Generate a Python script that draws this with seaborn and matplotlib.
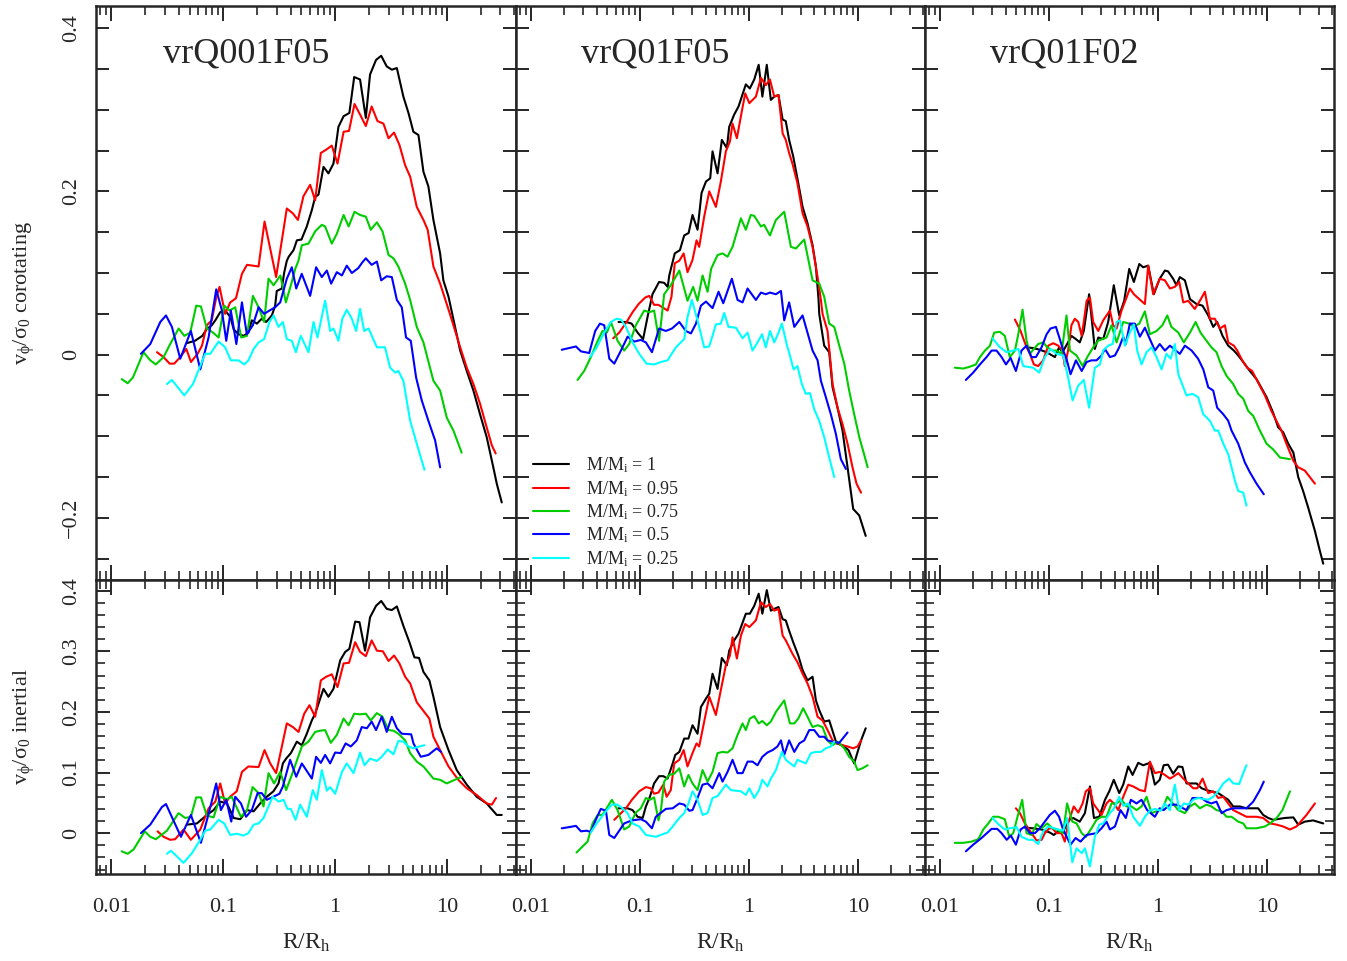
import pandas as pd
import seaborn as sns
import matplotlib.pyplot as plt
from matplotlib.ticker import MultipleLocator, LogLocator, FuncFormatter, NullFormatter

# model names (panel titles), mass fractions, colours
models = ["vrQ001F05", "vrQ01F05", "vrQ01F02"]
mass_labels = [r"M/M$_{\mathrm{i}}$ = 1", r"M/M$_{\mathrm{i}}$ = 0.95", r"M/M$_{\mathrm{i}}$ = 0.75",
               r"M/M$_{\mathrm{i}}$ = 0.5", r"M/M$_{\mathrm{i}}$ = 0.25"]
colors = ["#000000", "#ff0000", "#00cd00", "#0000ff", "#00ffff"]

# ---------------- vrQ001F05, corotating: (R/Rh, v/sigma0) ----------------
cor1_m100 = [(0.047, 0.014), (0.056, 0.017), (0.065, 0.023), (0.071, 0.031), (0.079, 0.036), (0.085, 0.042),
             (0.094, 0.052), (0.104, 0.054), (0.116, 0.046), (0.124, 0.031), (0.137, 0.025), (0.152, 0.023),
             (0.168, 0.027), (0.18, 0.042), (0.20, 0.038), (0.221, 0.044), (0.242, 0.040), (0.272, 0.048),
             (0.291, 0.060), (0.301, 0.078), (0.334, 0.081), (0.35, 0.100), (0.37, 0.115), (0.385, 0.120),
             (0.425, 0.128), (0.455, 0.140), (0.50, 0.141), (0.558, 0.157), (0.619, 0.177), (0.663, 0.193),
             (0.71, 0.196), (0.787, 0.230), (0.871, 0.222), (0.966, 0.234), (1.07, 0.279), (1.19, 0.292),
             (1.34, 0.296), (1.48, 0.340), (1.67, 0.337), (1.88, 0.290), (2.05, 0.343), (2.32, 0.361),
             (2.58, 0.366), (2.89, 0.353), (3.21, 0.349), (3.56, 0.351), (4.07, 0.316), (4.52, 0.296),
             (5.0, 0.273), (5.55, 0.269), (6.15, 0.224), (6.81, 0.206), (7.55, 0.165), (8.67, 0.124),
             (9.27, 0.091), (10.3, 0.071), (13.1, 0.005), (15.0, -0.020), (17.2, -0.044), (19.7, -0.073),
             (22.6, -0.101), (25.9, -0.138), (27.8, -0.158), (30.8, -0.181)]
cor1_m095 = [(0.0256, 0.003), (0.0293, -0.003), (0.0332, -0.011), (0.0365, -0.011), (0.0413, -0.003),
             (0.0468, 0.007), (0.0515, -0.009), (0.059, 0.001), (0.0646, 0.011), (0.0714, 0.036), (0.079, 0.042),
             (0.0866, 0.070), (0.0927, 0.083), (0.104, 0.050), (0.1155, 0.064), (0.13, 0.069), (0.147, 0.099),
             (0.163, 0.110), (0.207, 0.108), (0.234, 0.163), (0.297, 0.095), (0.37, 0.179), (0.419, 0.173),
             (0.465, 0.165), (0.521, 0.194), (0.598, 0.208), (0.663, 0.189), (0.745, 0.247), (0.832, 0.251),
             (0.933, 0.256), (1.05, 0.234), (1.19, 0.273), (1.33, 0.274), (1.49, 0.307), (1.67, 0.294),
             (1.88, 0.280), (2.12, 0.304), (2.39, 0.286), (2.70, 0.283), (3.0, 0.265), (3.36, 0.272),
             (3.75, 0.257), (4.22, 0.232), (4.68, 0.218), (5.36, 0.181), (6.15, 0.165), (6.71, 0.153),
             (7.55, 0.108), (8.67, 0.087), (10.6, 0.050), (13.1, 0.009), (15.0, -0.016), (17.2, -0.036),
             (19.7, -0.060), (22.6, -0.089), (25.1, -0.111), (27.2, -0.121)]
cor1_m075 = [(0.0124, -0.030), (0.014, -0.035), (0.0156, -0.028), (0.0194, 0.003), (0.0223, -0.007),
             (0.025, -0.012), (0.0293, -0.003), (0.0336, 0.013), (0.040, 0.032), (0.0449, 0.023), (0.0507, 0.027),
             (0.0574, 0.060), (0.0632, 0.059), (0.0714, 0.032), (0.081, 0.027), (0.091, 0.021), (0.102, 0.060),
             (0.114, 0.054), (0.128, 0.058), (0.145, 0.021), (0.163, 0.023), (0.184, 0.072), (0.207, 0.058),
             (0.232, 0.040), (0.254, 0.093), (0.282, 0.085), (0.324, 0.097), (0.363, 0.064), (0.41, 0.089),
             (0.44, 0.105), (0.47, 0.115), (0.504, 0.134), (0.578, 0.136), (0.663, 0.151), (0.76, 0.159),
             (0.814, 0.157), (0.933, 0.136), (1.035, 0.148), (1.19, 0.171), (1.32, 0.157), (1.49, 0.175),
             (1.67, 0.171), (1.88, 0.169), (2.08, 0.153), (2.36, 0.162), (2.65, 0.151), (3.0, 0.122),
             (3.32, 0.118), (3.67, 0.108), (4.22, 0.087), (4.68, 0.067), (5.36, 0.034), (6.15, 0.015),
             (7.55, -0.032), (8.67, -0.044), (9.93, -0.077), (11.4, -0.093), (13.5, -0.120)]
cor1_m050 = [(0.0184, 0.001), (0.0223, 0.013), (0.0274, 0.040), (0.0308, 0.048), (0.0348, 0.034),
             (0.0413, -0.005), (0.0514, 0.029), (0.0624, -0.018), (0.074, 0.021), (0.0866, 0.080), (0.0973, 0.054),
             (0.1064, 0.017), (0.117, 0.054), (0.131, 0.013), (0.147, 0.064), (0.1625, 0.025), (0.184, 0.036),
             (0.207, 0.058), (0.232, 0.050), (0.259, 0.054), (0.291, 0.058), (0.323, 0.064), (0.37, 0.093),
             (0.41, 0.107), (0.449, 0.081), (0.503, 0.099), (0.598, 0.072), (0.676, 0.107), (0.76, 0.095),
             (0.843, 0.103), (0.921, 0.087), (1.035, 0.101), (1.15, 0.097), (1.27, 0.109), (1.41, 0.100),
             (1.61, 0.106), (1.75, 0.113), (1.88, 0.118), (2.12, 0.110), (2.36, 0.114), (2.58, 0.091),
             (2.89, 0.096), (3.21, 0.095), (3.56, 0.067), (3.94, 0.058), (4.3, 0.021), (4.74, 0.017),
             (5.29, -0.028), (5.94, -0.056), (6.81, -0.081), (7.82, -0.105), (8.67, -0.138)]
cor1_m025 = [(0.0314, -0.036), (0.0348, -0.031), (0.0449, -0.050), (0.0536, -0.036), (0.0624, -0.014),
             (0.069, 0.001), (0.0766, 0.001), (0.091, 0.016), (0.104, 0.009), (0.117, -0.007), (0.137, -0.007),
             (0.154, -0.012), (0.168, -0.007), (0.187, 0.007), (0.207, 0.015), (0.232, 0.019), (0.259, 0.040),
             (0.282, 0.048), (0.312, 0.034), (0.341, 0.040), (0.37, 0.019), (0.41, 0.017), (0.446, 0.003),
             (0.493, 0.023), (0.578, 0.003), (0.641, 0.040), (0.695, 0.021), (0.814, 0.066), (0.902, 0.029),
             (0.966, 0.032), (1.07, 0.017), (1.16, 0.044), (1.27, 0.055), (1.41, 0.044), (1.54, 0.029),
             (1.67, 0.056), (1.82, 0.029), (1.99, 0.032), (2.36, 0.009), (2.79, 0.009), (3.1, -0.016),
             (3.44, -0.022), (3.67, -0.020), (4.07, -0.032), (4.68, -0.081), (5.36, -0.109), (6.28, -0.141)]

# ---------------- vrQ001F05, inertial ----------------
ine1_m100 = [(0.0474, 0.014), (0.0582, 0.016), (0.0714, 0.030), (0.082, 0.038), (0.094, 0.052), (0.108, 0.049),
             (0.124, 0.025), (0.142, 0.023), (0.163, 0.038), (0.187, 0.036), (0.214, 0.049), (0.245, 0.060),
             (0.281, 0.069), (0.312, 0.082), (0.341, 0.115), (0.365, 0.123), (0.402, 0.132), (0.455, 0.151),
             (0.504, 0.145), (0.558, 0.164), (0.619, 0.186), (0.663, 0.197), (0.735, 0.222), (0.787, 0.238),
             (0.871, 0.225), (0.966, 0.238), (1.11, 0.285), (1.23, 0.299), (1.34, 0.304), (1.51, 0.349),
             (1.65, 0.348), (1.85, 0.301), (2.05, 0.356), (2.32, 0.375), (2.58, 0.383), (2.89, 0.370),
             (3.21, 0.368), (3.56, 0.374), (4.07, 0.342), (4.61, 0.315), (5.11, 0.290), (5.62, 0.289),
             (6.15, 0.266), (6.95, 0.252), (7.55, 0.225), (8.67, 0.175), (10.3, 0.137), (12.2, 0.104),
             (15.0, 0.080), (18.4, 0.060), (22.6, 0.049), (27.8, 0.030), (30.8, 0.030)]
ine1_m095 = [(0.0259, 0.003), (0.0293, -0.006), (0.0336, -0.011), (0.0372, -0.010), (0.0442, 0.006),
             (0.0514, -0.011), (0.0624, 0.006), (0.074, 0.041), (0.085, 0.052), (0.094, 0.082), (0.104, 0.049),
             (0.115, 0.060), (0.132, 0.069), (0.147, 0.101), (0.168, 0.110), (0.207, 0.109), (0.234, 0.137),
             (0.263, 0.115), (0.297, 0.099), (0.37, 0.181), (0.419, 0.175), (0.471, 0.167), (0.529, 0.197),
             (0.59, 0.211), (0.663, 0.192), (0.745, 0.252), (0.832, 0.258), (0.933, 0.262), (1.05, 0.241),
             (1.19, 0.280), (1.33, 0.281), (1.51, 0.315), (1.67, 0.299), (1.88, 0.292), (2.12, 0.318),
             (2.36, 0.301), (2.67, 0.300), (3.0, 0.284), (3.36, 0.293), (3.75, 0.280), (4.22, 0.258),
             (4.68, 0.247), (5.36, 0.216), (6.07, 0.203), (6.95, 0.189), (7.55, 0.159), (8.67, 0.137),
             (10.3, 0.110), (12.6, 0.088), (15.0, 0.074), (18.4, 0.063), (22.6, 0.049), (25.1, 0.047),
             (27.4, 0.058)]
ine1_m075 = [(0.0124, -0.030), (0.014, -0.034), (0.0158, -0.027), (0.0199, 0.003), (0.0223, -0.006),
             (0.025, -0.010), (0.0314, 0.004), (0.0399, 0.033), (0.0458, 0.025), (0.0514, 0.027), (0.0574, 0.059),
             (0.0632, 0.059), (0.0714, 0.029), (0.082, 0.026), (0.094, 0.060), (0.108, 0.056), (0.119, 0.060),
             (0.144, 0.027), (0.163, 0.038), (0.183, 0.076), (0.207, 0.066), (0.229, 0.044), (0.254, 0.099),
             (0.285, 0.082), (0.323, 0.101), (0.365, 0.071), (0.41, 0.096), (0.504, 0.143), (0.578, 0.151),
             (0.663, 0.167), (0.735, 0.169), (0.814, 0.170), (0.914, 0.149), (1.035, 0.162), (1.19, 0.189),
             (1.32, 0.178), (1.48, 0.197), (1.67, 0.196), (1.88, 0.197), (2.08, 0.186), (2.36, 0.198),
             (2.65, 0.192), (3.0, 0.170), (3.32, 0.169), (3.67, 0.164), (4.22, 0.153), (4.68, 0.132),
             (5.36, 0.118), (6.15, 0.110), (7.55, 0.090), (8.67, 0.088), (9.93, 0.082), (13.5, 0.093)]
ine1_m050 = [(0.0184, 0.000), (0.0223, 0.014), (0.0283, 0.043), (0.0308, 0.048), (0.0341, 0.030),
             (0.0419, -0.006), (0.0514, 0.030), (0.0632, -0.016), (0.0755, 0.038), (0.0866, 0.082), (0.0953, 0.038),
             (0.1064, 0.055), (0.118, 0.019), (0.128, 0.060), (0.144, 0.049), (0.160, 0.027), (0.180, 0.038),
             (0.203, 0.066), (0.221, 0.066), (0.245, 0.055), (0.28, 0.060), (0.318, 0.065), (0.341, 0.077),
             (0.396, 0.121), (0.449, 0.093), (0.504, 0.115), (0.619, 0.090), (0.676, 0.126), (0.745, 0.116),
             (0.814, 0.129), (0.902, 0.115), (1.0, 0.133), (1.12, 0.132), (1.24, 0.148), (1.38, 0.143),
             (1.56, 0.153), (1.73, 0.175), (1.92, 0.173), (2.12, 0.184), (2.32, 0.170), (2.61, 0.192),
             (2.89, 0.167), (3.21, 0.192), (3.56, 0.173), (3.94, 0.164), (4.78, 0.163), (5.01, 0.148),
             (5.82, 0.126), (6.81, 0.129), (8.09, 0.140), (8.83, 0.134)]
ine1_m025 = [(0.0314, -0.034), (0.0341, -0.029), (0.0442, -0.049), (0.0525, -0.033), (0.0624, -0.011),
             (0.069, 0.004), (0.0766, 0.006), (0.091, 0.022), (0.102, 0.016), (0.1155, -0.003), (0.132, -0.001),
             (0.152, -0.004), (0.168, 0.000), (0.187, 0.014), (0.207, 0.016), (0.229, 0.025), (0.255, 0.045),
             (0.277, 0.060), (0.312, 0.052), (0.346, 0.055), (0.375, 0.040), (0.402, 0.040), (0.443, 0.022),
             (0.487, 0.047), (0.558, 0.027), (0.632, 0.071), (0.686, 0.055), (0.76, 0.104), (0.843, 0.070),
             (0.902, 0.076), (1.0, 0.065), (1.15, 0.101), (1.27, 0.115), (1.46, 0.099), (1.67, 0.133),
             (1.83, 0.112), (2.05, 0.123), (2.36, 0.119), (2.61, 0.126), (2.95, 0.138), (3.32, 0.130),
             (3.67, 0.152), (4.07, 0.151), (4.52, 0.143), (5.0, 0.140), (5.66, 0.143), (6.28, 0.145)]

# ---------------- vrQ01F05, corotating ----------------
cor2_m100 = [(0.0637, 0.040), (0.075, 0.040), (0.084, 0.038), (0.0953, 0.027), (0.107, 0.019), (0.1175, 0.046),
             (0.1305, 0.074), (0.150, 0.089), (0.167, 0.088), (0.18, 0.083), (0.186, 0.097), (0.209, 0.124),
             (0.233, 0.128), (0.255, 0.146), (0.28, 0.149), (0.304, 0.171), (0.338, 0.153), (0.368, 0.198),
             (0.404, 0.212), (0.442, 0.216), (0.464, 0.249), (0.516, 0.222), (0.565, 0.263), (0.628, 0.253),
             (0.66, 0.279), (0.733, 0.294), (0.804, 0.304), (0.938, 0.331), (1.02, 0.326), (1.12, 0.337),
             (1.23, 0.355), (1.33, 0.316), (1.46, 0.355), (1.59, 0.312), (1.71, 0.316), (1.87, 0.318),
             (2.04, 0.288), (2.18, 0.286), (2.34, 0.263), (2.55, 0.243), (2.84, 0.210), (3.11, 0.181),
             (3.45, 0.161), (3.84, 0.134), (4.12, 0.108), (4.36, 0.067), (4.42, 0.050), (4.91, 0.011),
             (5.46, 0.003), (5.86, -0.040), (6.51, -0.065), (7.23, -0.093), (8.04, -0.138), (9.06, -0.189),
             (10.3, -0.197), (11.8, -0.222)]
cor2_m095 = [(0.0569, 0.020), (0.0646, 0.027), (0.0755, 0.040), (0.0857, 0.052), (0.0973, 0.062), (0.112, 0.070),
             (0.122, 0.072), (0.135, 0.061), (0.148, 0.061), (0.1795, 0.054), (0.195, 0.071), (0.209, 0.112),
             (0.23, 0.115), (0.252, 0.124), (0.2735, 0.101), (0.304, 0.116), (0.331, 0.140), (0.35, 0.132),
             (0.389, 0.169), (0.433, 0.200), (0.498, 0.181), (0.553, 0.212), (0.615, 0.249), (0.67, 0.261),
             (0.708, 0.283), (0.776, 0.265), (0.845, 0.292), (0.925, 0.320), (1.01, 0.308), (1.16, 0.316),
             (1.29, 0.339), (1.43, 0.330), (1.56, 0.337), (1.71, 0.316), (1.87, 0.318), (2.04, 0.271),
             (2.18, 0.263), (2.34, 0.247), (2.51, 0.234), (2.79, 0.210), (3.11, 0.173), (3.45, 0.157),
             (3.84, 0.132), (4.27, 0.095), (4.58, 0.067), (4.74, 0.050), (5.27, 0.029), (5.86, -0.036),
             (6.51, -0.065), (7.23, -0.085), (8.04, -0.109), (8.93, -0.138), (9.72, -0.158), (10.7, -0.169)]
cor2_m075 = [(0.0268, -0.031), (0.0308, -0.020), (0.0355, -0.003), (0.041, 0.017), (0.0454, 0.029),
             (0.0498, 0.027), (0.0542, 0.040), (0.0624, 0.017), (0.0717, 0.005), (0.0798, 0.013), (0.0918, 0.036),
             (0.1096, 0.054), (0.122, 0.052), (0.135, 0.054), (0.150, 0.017), (0.167, 0.074), (0.192, 0.085),
             (0.230, 0.103), (0.2735, 0.066), (0.308, 0.083), (0.338, 0.066), (0.376, 0.097), (0.418, 0.077),
             (0.45, 0.105), (0.516, 0.122), (0.573, 0.124), (0.637, 0.120), (0.708, 0.132), (0.845, 0.167),
             (0.938, 0.153), (1.04, 0.171), (1.12, 0.170), (1.29, 0.157), (1.38, 0.159), (1.56, 0.146),
             (1.77, 0.165), (2.11, 0.175), (2.43, 0.132), (2.70, 0.130), (3.22, 0.141), (3.84, 0.091),
             (4.42, 0.087), (4.91, 0.071), (5.46, 0.038), (6.07, 0.034), (6.75, 0.011), (7.5, -0.011),
             (8.32, -0.044), (9.25, -0.073), (10.3, -0.101), (11.4, -0.122), (12.3, -0.138)]
cor2_m050 = [(0.0192, 0.006), (0.0259, 0.010), (0.0288, 0.004), (0.0343, 0.002), (0.0389, 0.029), (0.043, 0.038),
             (0.0471, 0.036), (0.0524, -0.005), (0.0582, -0.011), (0.067, 0.005), (0.0771, 0.022), (0.0887, 0.016),
             (0.102, 0.018), (0.1135, 0.015), (0.129, 0.003), (0.150, 0.032), (0.173, 0.029), (0.197, 0.032),
             (0.230, 0.040), (0.264, 0.029), (0.294, 0.026), (0.327, 0.038), (0.363, 0.060), (0.404, 0.065),
             (0.464, 0.057), (0.527, 0.077), (0.582, 0.063), (0.698, 0.093), (0.787, 0.067), (0.875, 0.064),
             (0.973, 0.081), (1.16, 0.067), (1.29, 0.076), (1.43, 0.074), (1.56, 0.076), (1.77, 0.074),
             (1.97, 0.078), (2.11, 0.042), (2.34, 0.064), (2.61, 0.034), (3.11, 0.048), (3.84, 0.005),
             (4.27, -0.007), (4.58, -0.032), (5.08, -0.052), (5.65, -0.073), (6.28, -0.097), (6.98, -0.128),
             (7.76, -0.140)]
cor2_m025 = [(0.0348, -0.003), (0.0394, 0.007), (0.0471, 0.027), (0.0542, 0.040), (0.061, 0.044), (0.067, 0.043),
             (0.0745, 0.034), (0.0857, 0.015), (0.0986, 0.001), (0.115, -0.011), (0.135, -0.012), (0.156, -0.009),
             (0.1795, -0.007), (0.214, 0.009), (0.255, 0.019), (0.2735, 0.046), (0.30, 0.067), (0.338, 0.042),
             (0.389, 0.009), (0.433, 0.010), (0.498, 0.037), (0.553, 0.038), (0.594, 0.051), (0.65, 0.034),
             (0.76, 0.033), (0.875, 0.020), (0.973, 0.027), (1.08, 0.005), (1.2, 0.015), (1.32, 0.025),
             (1.43, 0.009), (1.56, 0.029), (1.71, 0.015), (1.87, 0.027), (2.01, 0.038), (2.22, 0.013),
             (2.38, -0.001), (2.57, -0.018), (2.79, -0.014), (3.06, -0.036), (3.33, -0.048), (3.63, -0.047),
             (3.98, -0.067), (4.42, -0.081), (4.91, -0.101), (5.46, -0.126), (6.07, -0.150)]

# ---------------- vrQ01F05, inertial ----------------
ine2_m100 = [(0.0637, 0.041), (0.077, 0.041), (0.0857, 0.038), (0.0953, 0.027), (0.106, 0.025), (0.1135, 0.044),
             (0.1236, 0.060), (0.135, 0.082), (0.150, 0.094), (0.164, 0.094), (0.1795, 0.090), (0.2, 0.115),
             (0.211, 0.129), (0.23, 0.134), (0.255, 0.156), (0.279, 0.156), (0.304, 0.178), (0.338, 0.164),
             (0.363, 0.208), (0.404, 0.222), (0.433, 0.230), (0.464, 0.263), (0.516, 0.238), (0.565, 0.289),
             (0.628, 0.277), (0.66, 0.301), (0.733, 0.318), (0.804, 0.329), (0.938, 0.362), (1.02, 0.362),
             (1.12, 0.375), (1.23, 0.395), (1.33, 0.362), (1.46, 0.401), (1.59, 0.367), (1.71, 0.370),
             (1.87, 0.373), (2.04, 0.353), (2.18, 0.351), (2.34, 0.334), (2.55, 0.315), (2.84, 0.293),
             (3.11, 0.269), (3.45, 0.252), (3.84, 0.258), (4.12, 0.219), (4.42, 0.203), (4.91, 0.184),
             (5.46, 0.186), (6.37, 0.148), (7.23, 0.145), (8.2, 0.137), (9.25, 0.115), (10.7, 0.153),
             (11.8, 0.173)]
ine2_m095 = [(0.0582, 0.022), (0.0646, 0.030), (0.0745, 0.041), (0.0845, 0.055), (0.0986, 0.069), (0.1135, 0.076),
             (0.126, 0.074), (0.135, 0.065), (0.148, 0.067), (0.164, 0.080), (0.176, 0.060), (0.192, 0.071),
             (0.2066, 0.115), (0.23, 0.121), (0.252, 0.137), (0.2735, 0.110), (0.304, 0.132), (0.331, 0.148),
             (0.35, 0.143), (0.389, 0.184), (0.433, 0.225), (0.498, 0.195), (0.553, 0.236), (0.615, 0.277),
             (0.67, 0.293), (0.708, 0.323), (0.776, 0.288), (0.845, 0.326), (0.925, 0.345), (1.01, 0.340),
             (1.16, 0.351), (1.29, 0.381), (1.43, 0.373), (1.56, 0.378), (1.71, 0.367), (1.87, 0.370),
             (2.04, 0.326), (2.18, 0.318), (2.34, 0.307), (2.51, 0.296), (2.79, 0.282), (3.11, 0.263),
             (3.45, 0.247), (3.84, 0.225), (4.27, 0.192), (4.74, 0.186), (5.27, 0.170), (5.86, 0.153),
             (6.51, 0.148), (7.23, 0.145), (8.04, 0.143), (9.06, 0.140), (9.93, 0.143), (10.7, 0.153)]
ine2_m075 = [(0.0262, -0.032), (0.0298, -0.022), (0.0331, -0.014), (0.0368, 0.016), (0.041, 0.030),
             (0.0454, 0.030), (0.0553, 0.055), (0.0624, 0.038), (0.0717, 0.006), (0.0798, 0.011), (0.0918, 0.034),
             (0.102, 0.041), (0.1135, 0.058), (0.1236, 0.055), (0.135, 0.059), (0.148, 0.021), (0.156, 0.038),
             (0.167, 0.085), (0.186, 0.096), (0.2066, 0.098), (0.23, 0.107), (0.255, 0.077), (0.279, 0.096),
             (0.304, 0.082), (0.338, 0.071), (0.376, 0.104), (0.418, 0.085), (0.464, 0.101), (0.516, 0.132),
             (0.573, 0.134), (0.637, 0.133), (0.708, 0.140), (0.787, 0.162), (0.875, 0.181), (0.938, 0.170),
             (1.02, 0.189), (1.12, 0.193), (1.23, 0.181), (1.33, 0.185), (1.46, 0.178), (1.59, 0.184),
             (1.77, 0.200), (2.11, 0.219), (2.38, 0.181), (2.61, 0.181), (2.84, 0.189), (3.15, 0.206),
             (3.45, 0.192), (3.84, 0.175), (4.27, 0.178), (4.74, 0.175), (5.27, 0.153), (5.86, 0.145),
             (6.51, 0.151), (7.5, 0.140), (8.32, 0.126), (9.25, 0.118), (9.93, 0.104), (11.0, 0.107),
             (12.3, 0.112)]
ine2_m050 = [(0.0192, 0.008), (0.0225, 0.010), (0.0259, 0.012), (0.0288, 0.003), (0.0324, 0.004), (0.0355, 0.002),
             (0.0394, 0.022), (0.0438, 0.040), (0.0488, 0.037), (0.0524, -0.003), (0.0582, -0.008), (0.0646, 0.004),
             (0.0717, 0.016), (0.0845, 0.021), (0.102, 0.023), (0.1135, 0.019), (0.129, 0.008), (0.140, 0.027),
             (0.173, 0.040), (0.2, 0.041), (0.23, 0.049), (0.255, 0.047), (0.284, 0.037), (0.304, 0.038),
             (0.338, 0.058), (0.376, 0.080), (0.418, 0.082), (0.464, 0.074), (0.535, 0.099), (0.573, 0.085),
             (0.637, 0.101), (0.708, 0.121), (0.787, 0.099), (0.875, 0.099), (0.973, 0.118), (1.08, 0.118),
             (1.2, 0.112), (1.33, 0.126), (1.48, 0.133), (1.65, 0.137), (1.83, 0.143), (1.97, 0.153),
             (2.11, 0.129), (2.34, 0.153), (2.61, 0.134), (2.9, 0.148), (3.22, 0.153), (3.58, 0.170),
             (3.98, 0.170), (4.42, 0.159), (4.91, 0.159), (5.27, 0.153), (5.86, 0.151), (6.75, 0.149),
             (8.04, 0.166)]
ine2_m025 = [(0.0355, 0.001), (0.0394, 0.014), (0.0438, 0.025), (0.0488, 0.036), (0.0553, 0.047), (0.0624, 0.047),
             (0.0693, 0.041), (0.077, 0.033), (0.0857, 0.016), (0.0986, 0.011), (0.1135, -0.003), (0.140, -0.006),
             (0.161, -0.002), (0.1795, 0.001), (0.2, 0.011), (0.23, 0.025), (0.255, 0.033), (0.279, 0.049),
             (0.304, 0.069), (0.338, 0.055), (0.376, 0.030), (0.418, 0.033), (0.464, 0.058), (0.516, 0.061),
             (0.615, 0.080), (0.684, 0.071), (0.845, 0.069), (0.938, 0.063), (1.01, 0.074), (1.12, 0.058),
             (1.24, 0.071), (1.33, 0.088), (1.48, 0.077), (1.59, 0.090), (1.77, 0.104), (2.01, 0.134),
             (2.18, 0.121), (2.61, 0.110), (2.79, 0.121), (3.33, 0.115), (3.71, 0.132), (4.12, 0.134),
             (4.58, 0.134), (5.08, 0.140), (5.65, 0.143), (6.07, 0.151)]

# ---------------- vrQ01F02, corotating ----------------
cor3_m100 = [(0.0624, 0.009), (0.0717, 0.008), (0.0826, 0.006), (0.0953, 0.003), (0.1135, -0.003), (0.124, 0.009),
             (0.133, 0.003), (0.147, 0.013), (0.161, 0.023), (0.177, 0.019), (0.192, 0.015), (0.209, 0.029),
             (0.234, 0.074), (0.264, 0.007), (0.284, 0.021), (0.315, 0.019), (0.35, 0.040), (0.394, 0.085),
             (0.442, 0.048), (0.491, 0.066), (0.546, 0.105), (0.602, 0.089), (0.675, 0.111), (0.733, 0.107),
             (0.815, 0.109), (0.918, 0.074), (1.04, 0.093), (1.16, 0.103), (1.24, 0.102), (1.38, 0.093),
             (1.48, 0.085), (1.59, 0.095), (1.77, 0.091), (1.97, 0.068), (2.26, 0.062), (2.57, 0.060),
             (2.9, 0.048), (3.22, 0.034), (3.5, 0.040), (3.92, 0.023), (4.42, 0.011), (4.98, 0.005),
             (5.46, -0.001), (6.07, -0.009), (6.98, -0.020), (8.04, -0.030), (9.93, -0.052), (11.4, -0.071),
             (12.7, -0.089), (14.1, -0.095), (15.7, -0.109), (17.5, -0.120), (19.4, -0.150), (21.5, -0.167),
             (23.9, -0.187), (27.6, -0.216), (30.6, -0.240), (32.9, -0.256)]
cor3_m095 = [(0.0488, 0.043), (0.055, 0.029), (0.0624, 0.009), (0.067, 0.001), (0.0728, -0.012), (0.0797, -0.014),
             (0.0887, -0.007), (0.0986, 0.011), (0.1096, 0.014), (0.122, 0.011), (0.133, 0.005), (0.140, -0.014),
             (0.150, 0.005), (0.161, 0.036), (0.173, 0.044), (0.186, 0.040), (0.2, 0.023), (0.209, 0.040),
             (0.222, 0.066), (0.238, 0.070), (0.255, 0.040), (0.284, 0.029), (0.315, 0.042), (0.363, 0.054),
             (0.389, 0.036), (0.418, 0.032), (0.464, 0.054), (0.516, 0.070), (0.553, 0.081), (0.602, 0.074),
             (0.675, 0.068), (0.76, 0.062), (0.815, 0.109), (0.906, 0.074), (1.04, 0.093), (1.16, 0.091),
             (1.29, 0.081), (1.43, 0.083), (1.57, 0.089), (1.71, 0.064), (1.90, 0.066), (2.18, 0.056),
             (2.43, 0.066), (2.70, 0.077), (3.0, 0.044), (3.33, 0.044), (3.71, 0.032), (4.12, 0.036),
             (4.42, 0.015), (4.98, 0.011), (5.35, 0.005), (5.94, -0.007), (6.6, -0.016), (7.33, -0.020),
             (8.45, -0.036), (9.6, -0.050), (11.0, -0.069), (13.6, -0.093), (15.1, -0.109), (17.5, -0.130),
             (19.4, -0.138), (22.3, -0.142), (24.8, -0.150), (27.6, -0.158)]
cor3_m075 = [(0.0137, -0.016), (0.0164, -0.017), (0.0186, -0.015), (0.0214, -0.012), (0.0233, -0.003),
             (0.0259, 0.005), (0.0288, 0.011), (0.0315, 0.027), (0.0355, 0.028), (0.0394, 0.023), (0.0438, -0.003),
             (0.0488, 0.005), (0.0524, 0.025), (0.0573, 0.055), (0.0624, 0.017), (0.067, 0.001), (0.0728, 0.007),
             (0.0797, 0.013), (0.0887, 0.015), (0.0966, 0.009), (0.108, 0.005), (0.1175, 0.005), (0.1305, 0.001),
             (0.145, 0.048), (0.156, 0.005), (0.1795, -0.001), (0.204, -0.014), (0.225, -0.003), (0.255, 0.009),
             (0.284, 0.017), (0.338, 0.021), (0.376, 0.036), (0.418, 0.015), (0.481, 0.040), (0.546, 0.038),
             (0.602, 0.034), (0.675, 0.038), (0.76, 0.053), (0.845, 0.025), (0.973, 0.029), (1.1, 0.036),
             (1.22, 0.048), (1.33, 0.034), (1.54, 0.027), (1.73, 0.015), (1.97, 0.027), (2.22, 0.040),
             (2.46, 0.027), (2.79, 0.017), (3.1, 0.009), (3.45, 0.003), (3.84, -0.014), (4.27, -0.026),
             (4.91, -0.036), (5.46, -0.048), (6.07, -0.054), (6.75, -0.069), (7.5, -0.075), (8.63, -0.093),
             (9.93, -0.109), (11.4, -0.116), (13.2, -0.126), (16.3, -0.128)]
cor3_m050 = [(0.0173, -0.031), (0.0202, -0.022), (0.0233, -0.012), (0.0268, -0.003), (0.0298, 0.005),
             (0.0331, 0.005), (0.0368, -0.003), (0.0404, -0.012), (0.0445, -0.004), (0.0498, -0.020), (0.0561, 0.005),
             (0.0624, 0.011), (0.0693, -0.003), (0.076, -0.003), (0.0857, 0.009), (0.0953, 0.025), (0.1035, 0.032),
             (0.116, 0.034), (0.126, 0.019), (0.1355, 0.005), (0.145, -0.005), (0.158, -0.024), (0.177, -0.007),
             (0.2, -0.020), (0.222, -0.009), (0.246, -0.007), (0.2735, -0.007), (0.304, -0.001), (0.327, 0.007),
             (0.363, -0.003), (0.404, -0.001), (0.442, 0.009), (0.481, 0.022), (0.508, 0.013), (0.553, 0.038),
             (0.615, 0.038), (0.684, 0.022), (0.76, 0.033), (0.845, 0.019), (0.94, 0.005), (1.04, 0.013),
             (1.16, 0.005), (1.29, 0.011), (1.43, 0.006), (1.59, 0.001), (1.77, 0.011), (2.04, 0.005),
             (2.34, -0.005), (2.61, -0.018), (2.9, -0.040), (3.22, -0.044), (3.5, -0.065), (3.98, -0.073),
             (4.42, -0.081), (4.74, -0.093), (5.46, -0.109), (6.28, -0.132), (6.98, -0.144), (8.04, -0.158),
             (9.37, -0.171)]
cor3_m025 = [(0.0304, 0.020), (0.0355, 0.009), (0.041, 0.003), (0.0471, 0.005), (0.0524, 0.007), (0.0582, -0.014),
             (0.0646, -0.015), (0.0717, -0.016), (0.0815, -0.022), (0.0918, -0.003), (0.1035, 0.007), (0.1175, 0.001),
             (0.1355, -0.001), (0.150, -0.028), (0.165, -0.056), (0.186, -0.038), (0.209, -0.031), (0.234, -0.065),
             (0.264, -0.016), (0.294, -0.012), (0.315, 0.005), (0.35, 0.011), (0.384, 0.013), (0.418, 0.040),
             (0.448, 0.042), (0.498, 0.011), (0.553, 0.027), (0.602, 0.037), (0.646, 0.005), (0.708, -0.012),
             (0.787, 0.003), (0.875, 0.009), (0.973, -0.003), (1.08, -0.018), (1.2, 0.001), (1.31, -0.005),
             (1.43, 0.013), (1.54, -0.024), (1.83, -0.050), (2.08, -0.048), (2.34, -0.052), (2.61, -0.073),
             (3.0, -0.081), (3.33, -0.093), (3.58, -0.093), (3.98, -0.109), (4.42, -0.122), (4.74, -0.138),
             (5.08, -0.154), (5.46, -0.167), (6.07, -0.169), (6.5, -0.185)]

# ---------------- vrQ01F02, inertial ----------------
ine3_m100 = [(0.0603, 0.009), (0.0717, 0.008), (0.0857, 0.006), (0.102, 0.001), (0.111, -0.003), (0.122, 0.003),
             (0.135, 0.003), (0.154, 0.022), (0.167, 0.025), (0.192, 0.019), (0.214, 0.033), (0.238, 0.077),
             (0.259, 0.025), (0.29, 0.027), (0.327, 0.055), (0.358, 0.069), (0.394, 0.088), (0.442, 0.066),
             (0.481, 0.080), (0.535, 0.110), (0.586, 0.096), (0.66, 0.116), (0.733, 0.112), (0.845, 0.116),
             (0.938, 0.080), (1.04, 0.088), (1.13, 0.112), (1.24, 0.113), (1.38, 0.098), (1.54, 0.110),
             (1.68, 0.109), (1.83, 0.082), (2.26, 0.082), (2.52, 0.074), (2.79, 0.071), (3.58, 0.066),
             (4.42, 0.055), (4.91, 0.044), (5.65, 0.044), (6.5, 0.041), (8.32, 0.041), (9.25, 0.030),
             (10.3, 0.025), (11.4, 0.022), (14.6, 0.025), (17.5, 0.026), (19.4, 0.014), (22.3, 0.019),
             (26.6, 0.021), (32.9, 0.016)]
ine3_m095 = [(0.0498, 0.041), (0.0542, 0.033), (0.0603, 0.016), (0.0693, 0.000), (0.077, -0.012), (0.0857, -0.011),
             (0.0918, 0.000), (0.1007, 0.008), (0.108, 0.008), (0.1175, 0.000), (0.1305, 0.000), (0.140, -0.014),
             (0.150, 0.016), (0.169, 0.044), (0.186, 0.034), (0.204, 0.049), (0.218, 0.069), (0.238, 0.074),
             (0.255, 0.049), (0.304, 0.030), (0.338, 0.049), (0.363, 0.055), (0.394, 0.049), (0.433, 0.038),
             (0.481, 0.060), (0.535, 0.080), (0.594, 0.077), (0.684, 0.071), (0.76, 0.069), (0.845, 0.118),
             (0.938, 0.099), (1.04, 0.101), (1.16, 0.096), (1.29, 0.090), (1.38, 0.093), (1.54, 0.099),
             (1.71, 0.090), (2.11, 0.074), (2.30, 0.074), (2.57, 0.090), (2.9, 0.066), (3.22, 0.069),
             (3.58, 0.058), (3.98, 0.060), (4.42, 0.049), (4.91, 0.038), (6.5, 0.027), (8.04, 0.027),
             (9.25, 0.025), (10.7, 0.016), (12.3, 0.014), (14.1, 0.011), (16.3, 0.006), (18.7, 0.011),
             (23.1, 0.030), (27.6, 0.049)]
ine3_m075 = [(0.0137, -0.016), (0.0164, -0.016), (0.0195, -0.014), (0.0225, -0.010), (0.025, 0.006),
             (0.0278, 0.016), (0.0308, 0.027), (0.0343, 0.027), (0.0394, 0.023), (0.0433, -0.006), (0.0471, 0.000),
             (0.0512, 0.025), (0.0569, 0.055), (0.0624, 0.000), (0.0693, -0.003), (0.077, 0.015), (0.0857, 0.008),
             (0.0966, 0.016), (0.108, 0.008), (0.1175, 0.006), (0.135, 0.000), (0.147, 0.049), (0.164, 0.019),
             (0.1795, 0.016), (0.2, 0.000), (0.219, -0.006), (0.246, 0.008), (0.2735, 0.022), (0.304, 0.027),
             (0.338, 0.027), (0.376, 0.049), (0.418, 0.049), (0.464, 0.055), (0.516, 0.044), (0.573, 0.044),
             (0.637, 0.038), (0.708, 0.044), (0.787, 0.060), (0.875, 0.033), (1.1, 0.040), (1.22, 0.060),
             (1.54, 0.038), (1.77, 0.033), (1.97, 0.044), (2.18, 0.049), (2.43, 0.041), (2.79, 0.047),
             (3.1, 0.044), (3.45, 0.038), (3.84, 0.036), (4.27, 0.027), (4.74, 0.027), (5.46, 0.019),
             (6.07, 0.016), (6.5, 0.008), (8.04, 0.008), (9.6, 0.011), (10.7, 0.016), (12.3, 0.025),
             (13.9, 0.038), (16.3, 0.069)]
ine3_m050 = [(0.0173, -0.030), (0.0202, -0.019), (0.0241, -0.008), (0.0298, 0.007), (0.0336, 0.007),
             (0.0368, 0.000), (0.041, -0.011), (0.0448, -0.004), (0.0498, -0.019), (0.055, 0.006), (0.0603, 0.011),
             (0.067, 0.000), (0.0745, 0.000), (0.0826, 0.008), (0.0918, 0.019), (0.102, 0.030), (0.1135, 0.037),
             (0.124, 0.027), (0.135, 0.006), (0.158, -0.019), (0.176, -0.008), (0.195, -0.014), (0.222, -0.003),
             (0.2735, 0.000), (0.304, 0.008), (0.338, 0.019), (0.363, 0.006), (0.404, 0.011), (0.454, 0.038),
             (0.508, 0.025), (0.565, 0.055), (0.637, 0.049), (0.708, 0.055), (0.798, 0.038), (0.938, 0.027),
             (1.04, 0.041), (1.13, 0.038), (1.29, 0.047), (1.48, 0.047), (1.83, 0.038), (2.08, 0.058),
             (2.52, 0.058), (2.79, 0.052), (3.1, 0.049), (3.45, 0.052), (3.84, 0.033), (4.27, 0.038),
             (4.91, 0.041), (6.5, 0.041), (7.5, 0.052), (8.63, 0.071), (9.37, 0.085)]
ine3_m025 = [(0.0304, 0.025), (0.0343, 0.015), (0.0394, 0.006), (0.0438, 0.008), (0.0505, 0.010), (0.0561, -0.006),
             (0.0646, -0.011), (0.0717, -0.011), (0.0798, -0.018), (0.0887, 0.003), (0.0986, 0.011), (0.122, 0.006),
             (0.135, 0.004), (0.147, 0.025), (0.164, -0.048), (0.1795, -0.025), (0.2, -0.033), (0.214, -0.025),
             (0.238, -0.055), (0.264, -0.006), (0.29, 0.014), (0.315, 0.016), (0.363, 0.033), (0.394, 0.040),
             (0.442, 0.060), (0.481, 0.045), (0.535, 0.049), (0.594, 0.027), (0.684, 0.012), (0.76, 0.027),
             (0.845, 0.037), (0.938, 0.040), (1.06, 0.037), (1.16, 0.049), (1.29, 0.038), (1.43, 0.080),
             (1.57, 0.038), (1.73, 0.049), (1.90, 0.047), (2.11, 0.055), (2.34, 0.058), (2.9, 0.055),
             (3.22, 0.060), (3.58, 0.069), (3.98, 0.082), (4.51, 0.090), (4.91, 0.082), (5.57, 0.081),
             (6.07, 0.099), (6.5, 0.112)]

panels = [
    [cor1_m100, cor1_m095, cor1_m075, cor1_m050, cor1_m025],
    [cor2_m100, cor2_m095, cor2_m075, cor2_m050, cor2_m025],
    [cor3_m100, cor3_m095, cor3_m075, cor3_m050, cor3_m025],
    [ine1_m100, ine1_m095, ine1_m075, ine1_m050, ine1_m025],
    [ine2_m100, ine2_m095, ine2_m075, ine2_m050, ine2_m025],
    [ine3_m100, ine3_m095, ine3_m075, ine3_m050, ine3_m025],
]


def to_frame(curves):
    frames = []
    for lab, pts in zip(mass_labels, curves):
        d = pd.DataFrame(pts, columns=["R", "v"])
        d["mass"] = lab
        frames.append(d)
    return pd.concat(frames, ignore_index=True)


sns.set_style("ticks")
plt.rcParams["font.family"] = ["Liberation Serif", "DejaVu Serif"]
plt.rcParams["mathtext.fontset"] = "custom"
plt.rcParams["mathtext.rm"] = "Liberation Serif"
plt.rcParams["mathtext.it"] = "Liberation Serif:italic"
plt.rcParams["mathtext.bf"] = "Liberation Serif:bold"
plt.rcParams["axes.linewidth"] = 1.8

W, H = 1347, 961
fig = plt.figure(figsize=(W / 100, H / 100), dpi=100)
gs = fig.add_gridspec(2, 3, left=96 / W, right=1334 / W, top=1 - 6 / H, bottom=1 - 874 / H,
                      hspace=0, wspace=0, width_ratios=[420, 409, 409], height_ratios=[574, 294])


def fmt_y(val, pos):
    if abs(val) < 1e-9:
        return "0"
    s = "%g" % round(val, 3)
    return s.replace("-", "\u2212")


for k, curves in enumerate(panels):
    row, col = divmod(k, 3)
    ax = fig.add_subplot(gs[row, col])
    df = to_frame(curves)
    sns.lineplot(data=df, x="R", y="v", hue="mass", hue_order=mass_labels, palette=colors,
                 estimator=None, lw=1.5, ax=ax, legend=(k == 1))
    ax.set_xscale("log")
    ax.set_xlim(0.0073, 41.3)
    ax.xaxis.set_major_locator(LogLocator(base=10))
    ax.xaxis.set_minor_locator(LogLocator(base=10, subs=range(2, 10)))
    ax.xaxis.set_minor_formatter(NullFormatter())
    ax.xaxis.set_major_formatter(FuncFormatter(lambda x, p: "%g" % x))
    ax.tick_params(axis="x", which="major", direction="in", top=True, bottom=True, length=11, width=1.4,
                   labelsize=16, pad=17, labelbottom=(row == 1))
    ax.tick_params(axis="x", which="minor", direction="in", top=True, bottom=True, length=6.5, width=1.2)

    if row == 0:
        ax.set_ylim(-0.276, 0.427)
        ax.yaxis.set_major_locator(MultipleLocator(0.2))
        ax.yaxis.set_minor_locator(MultipleLocator(0.05))
        ax.tick_params(axis="y", which="minor", direction="in", left=True, right=True, length=9.5, width=1.4)
        ax.tick_params(axis="y", which="major", direction="in", left=True, right=True, length=9.5, width=1.4)
    else:
        ax.set_ylim(-0.0674, 0.4176)
        ax.yaxis.set_major_locator(MultipleLocator(0.1))
        ax.yaxis.set_minor_locator(MultipleLocator(0.02))
        ax.tick_params(axis="y", which="major", direction="in", left=True, right=True, length=10, width=1.4)
        ax.tick_params(axis="y", which="minor", direction="in", left=True, right=True, length=6.5, width=1.2)
    ax.yaxis.set_major_formatter(FuncFormatter(fmt_y))
    ax.tick_params(axis="y", which="major", labelsize=16, pad=11, labelrotation=90, labelleft=(col == 0))
    for t in ax.get_yticklabels():
        t.set_verticalalignment("center")

    ax.set_xlabel("")
    ax.set_ylabel("")
    if row == 0:
        ax.text(0.16, 0.902, models[col], transform=ax.transAxes, fontsize=26, va="baseline")
    if row == 1:
        ax.set_xlabel(r"R/R$_{\mathrm{h}}$", fontsize=17, va="center")
        ax.xaxis.set_label_coords(0.5, -0.235)
    if col == 0:
        lab = "corotating" if row == 0 else "inertial"
        ax.set_ylabel(r"v$_{\mathrm{\phi}}$/$\mathrm{\sigma}_0$ " + lab, fontsize=16, va="center")
        ax.yaxis.set_label_coords(-0.172, 0.5)
    if k == 1:
        handles, labels = ax.get_legend_handles_labels()
        ax.legend(handles, labels, loc="lower left", bbox_to_anchor=(0.042, 0.02), frameon=False,
                  fontsize=13, handlelength=2.0, handletextpad=0.9, labelspacing=0.2,
                  borderpad=0, borderaxespad=0)

fig.savefig("out.png", dpi=100)
